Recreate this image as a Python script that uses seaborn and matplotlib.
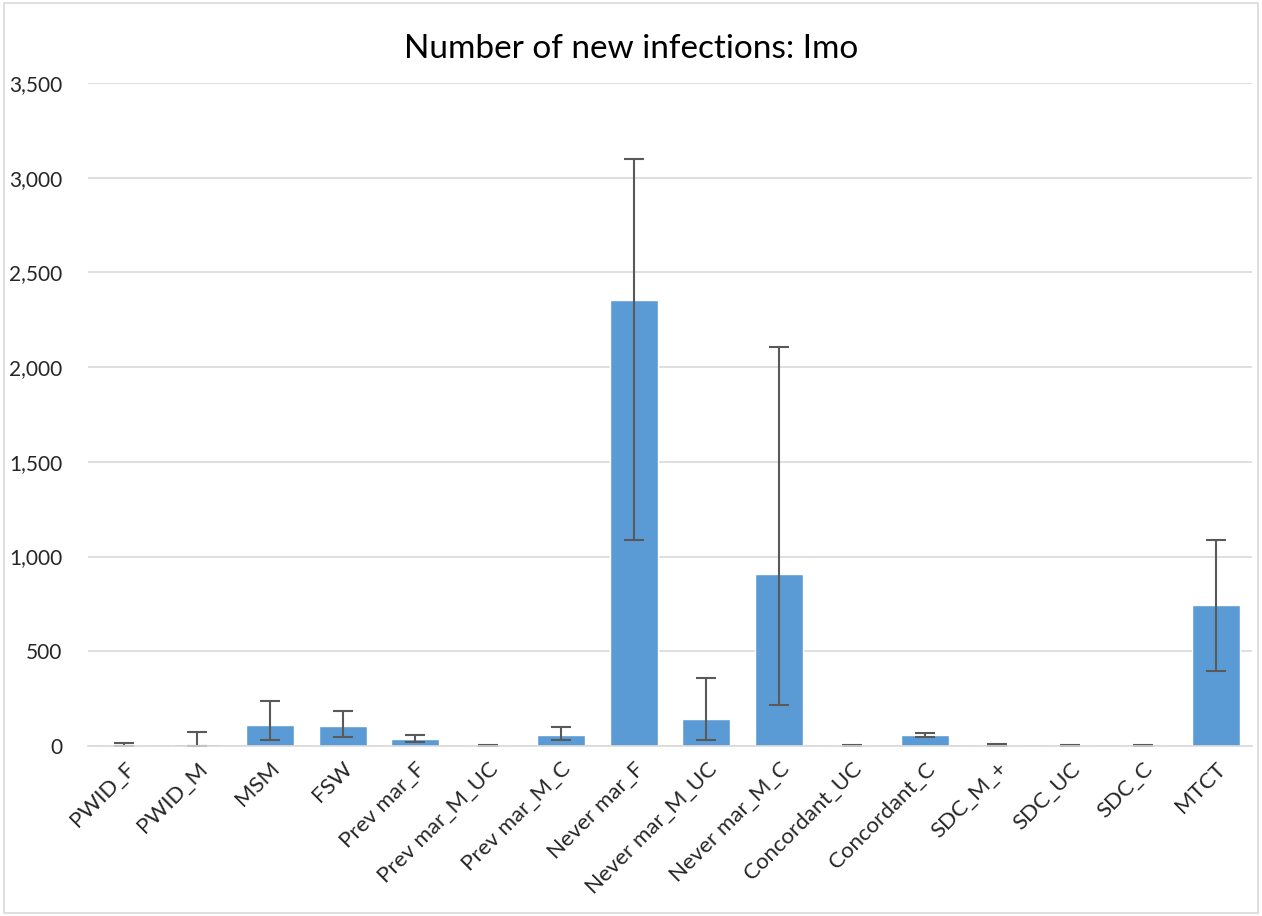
import numpy as np
import pandas as pd
import matplotlib
matplotlib.use("Agg")
import matplotlib.pyplot as plt
import seaborn as sns
from matplotlib.ticker import FuncFormatter, MultipleLocator
from matplotlib.patches import Rectangle

groups = ["PWID_F", "PWID_M", "MSM", "FSW", "Prev mar_F", "Prev mar_M_UC",
          "Prev mar_M_C", "Never mar_F", "Never mar_M_UC", "Never mar_M_C",
          "Concordant_UC", "Concordant_C", "SDC_M_+", "SDC_UC", "SDC_C", "MTCT"]
infections = [2, 9, 110, 103, 36, 1, 59, 2355, 145, 907, 1, 58, 2, 1, 1, 745]
lower = [0, 0, 33, 46, 21, 0, 30, 1090, 33, 214, 0, 46, 0, 0, 0, 398]
upper = [17, 73, 240, 186, 58, 3, 102, 3100, 357, 2105, 3, 71, 12, 3, 3, 1088]

df = pd.DataFrame({"group": groups, "infections": infections})

sns.set_theme(style="white")
plt.rcParams["font.family"] = ["Lato", "DejaVu Sans"]

fig = plt.figure(figsize=(12.62, 9.16), dpi=100)
ax = fig.add_axes([0.0697, 0.1856, 0.9223, 0.7238])

sns.barplot(data=df, x="group", y="infections", color="#5B9BD5", saturation=1,
            width=0.66, errorbar=None, ax=ax)

vals = np.array(infections)
yerr = [vals - np.array(lower), np.array(upper) - vals]
ax.errorbar(np.arange(len(groups)), vals, yerr=yerr, fmt="none",
            ecolor="#595959", elinewidth=1.5, capsize=7, capthick=1.5)

ax.set_ylim(0, 3500)
ax.set_xlim(-0.5, len(groups) - 0.5)
ax.yaxis.set_major_locator(MultipleLocator(500))
ax.yaxis.set_major_formatter(FuncFormatter(lambda v, p: f"{int(v):,}"))
ax.grid(axis="y", color="#D9D9D9", linewidth=1.2)
ax.set_axisbelow(True)
for s in ["top", "right", "left"]:
    ax.spines[s].set_visible(False)
ax.spines["bottom"].set_color("#D9D9D9")
ax.spines["bottom"].set_linewidth(1.2)
ax.tick_params(axis="y", length=0, labelsize=15, labelcolor="#262626", pad=18.5)
ax.tick_params(axis="x", length=0, labelsize=16, labelcolor="#262626", pad=9)
ax.set_xticks(range(len(groups)))
ax.set_xticklabels(groups, rotation=45, ha="right", rotation_mode="anchor")
ax.set_xlabel("")
ax.set_ylabel("")

fig.text(0.5, 0.947, "Number of new infections: Imo", ha="center", va="center",
         fontsize=24, color="#000000")

fig.patches.append(Rectangle((0.003, 0.003), 0.994, 0.994, transform=fig.transFigure,
                             fill=False, edgecolor="#D9D9D9", linewidth=1.2))

fig.savefig("out.png", dpi=100)
